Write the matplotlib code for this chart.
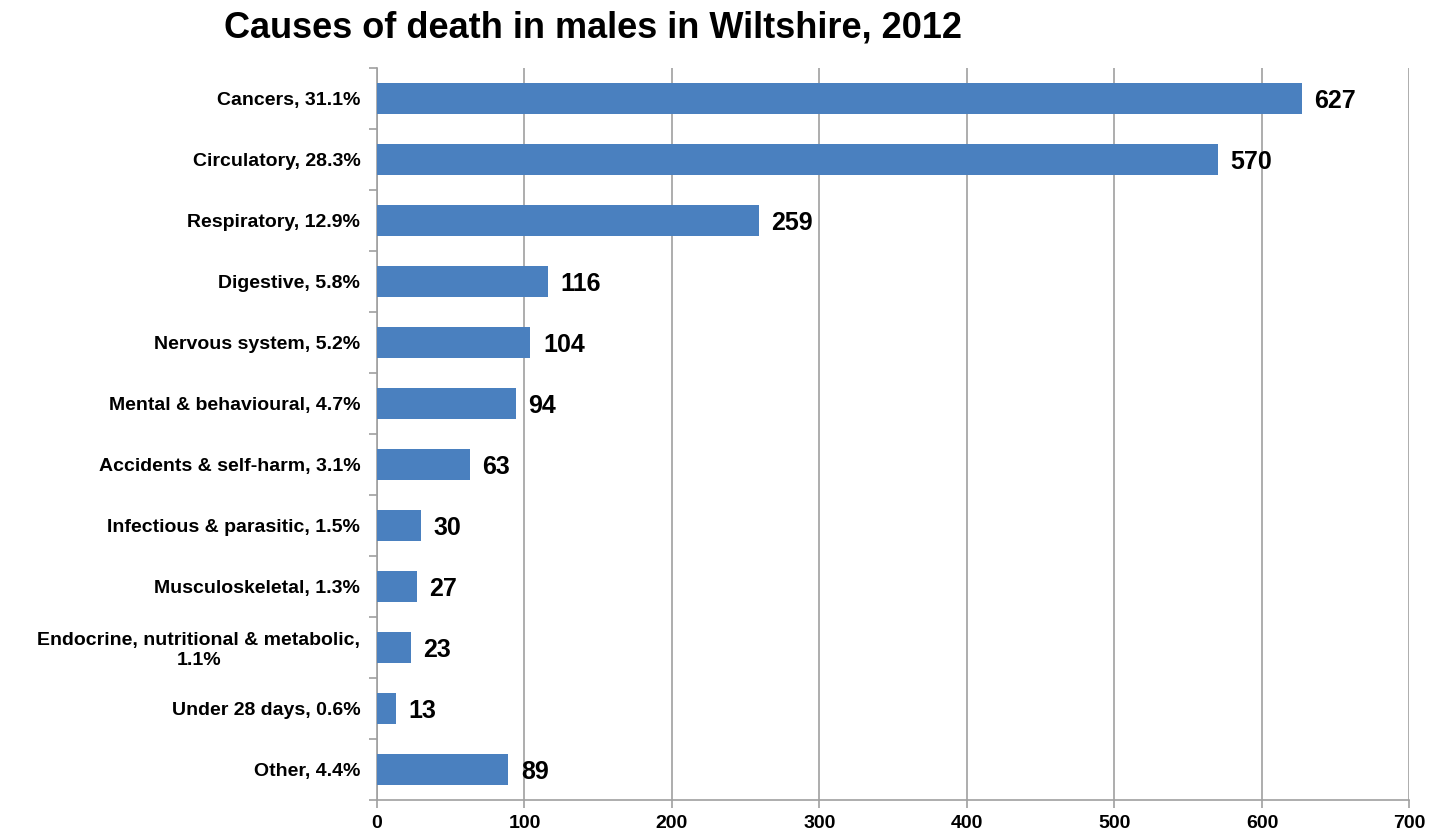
import numpy as np
import matplotlib.pyplot as plt
from matplotlib.ticker import MultipleLocator, FixedLocator

plt.rcParams['font.family'] = ['Liberation Sans', 'DejaVu Sans']
plt.rcParams['font.weight'] = 'bold'

# Deaths by cause, top to bottom as listed
causes = ['Cancers, 31.1%', 'Circulatory, 28.3%', 'Respiratory, 12.9%',
          'Digestive, 5.8%', 'Nervous system, 5.2%', 'Mental & behavioural, 4.7%',
          'Accidents & self-harm, 3.1%', 'Infectious & parasitic, 1.5%',
          'Musculoskeletal, 1.3%', 'Endocrine, nutritional & metabolic,\n1.1%',
          'Under 28 days, 0.6%', 'Other, 4.4%']
deaths = [627, 570, 259, 116, 104, 94, 63, 30, 27, 23, 13, 89]

bar_color = '#4A80BF'
axis_grey = '#A0A0A0'

fig = plt.figure(figsize=(14.55, 8.36), dpi=100)
ax = fig.add_axes([0.2591, 0.0431, 0.7096, 0.8756])

y = np.arange(len(causes))
ax.barh(y, deaths, height=0.5, color=bar_color, zorder=3)
ax.set_ylim(len(causes) - 0.5, -0.5)
ax.set_xlim(0, 700)

for yi, v in zip(y, deaths):
    ax.annotate(str(v), (v, yi), xytext=(9, -1.5), textcoords='offset points',
                va='center', ha='left', fontsize=18, fontweight='bold', zorder=4)

ax.xaxis.set_major_locator(MultipleLocator(100))
ax.grid(axis='x', color=axis_grey, linewidth=1.2, zorder=0)
ax.set_yticks(y)
ax.set_yticklabels(causes, fontsize=14, fontweight='bold', linespacing=1.2)
for lbl in ax.get_yticklabels():
    lbl.set_multialignment('center')
ax.yaxis.set_minor_locator(FixedLocator(np.arange(-0.5, len(causes), 1)))
ax.tick_params(axis='y', which='major', length=0, pad=12)
ax.tick_params(axis='y', which='minor', length=6, color=axis_grey, width=1.2)
ax.tick_params(axis='x', length=6, color=axis_grey, width=1.2, labelsize=14, pad=5)
for lbl in ax.get_xticklabels():
    lbl.set_fontweight('bold')

for side in ('top', 'right'):
    ax.spines[side].set_visible(False)
for side in ('left', 'bottom'):
    ax.spines[side].set_color(axis_grey)
    ax.spines[side].set_linewidth(1.2)

fig.text(0.4076, 0.967, 'Causes of death in males in Wiltshire, 2012',
         ha='center', va='center', fontsize=26, fontweight='bold')

fig.savefig('out.png', dpi=100)
